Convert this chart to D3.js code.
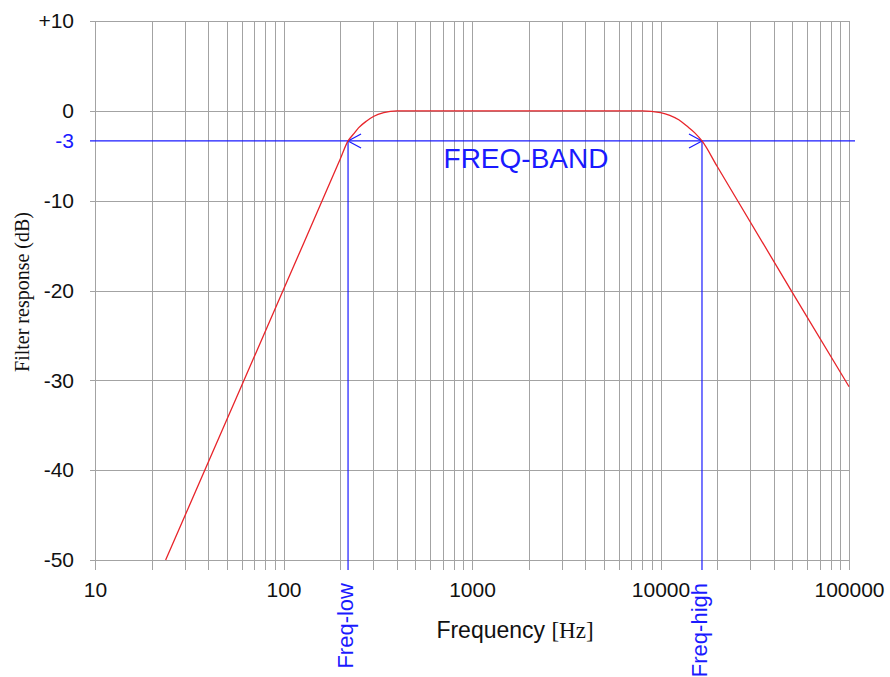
<!DOCTYPE html>
<html><head><meta charset="utf-8">
<script src="https://cdn.jsdelivr.net/npm/d3@7"></script>
<style>body{margin:0;background:#fff}svg{display:block}</style>
</head><body><svg id="c" width="890" height="677"></svg>
<script>
// Data
const freqs = [23.7, 50, 100, 150, 200, 220, 235, 250, 275, 300, 340, 400, 1000, 5000, 8000, 10000, 11200, 12500, 13800, 15200, 16600, 20000, 50000, 100000];
const response = [-50, -34.4, -19.9, -11.4, -5.37, -3.35, -2.6, -1.9, -1.15, -0.63, -0.2, 0, 0, 0, 0, -0.2, -0.5, -1.0, -1.7, -2.45, -3.35, -6.2, -20.2, -30.7];
const xTickLabels = [10, 100, 1000, 10000, 100000];
const yGrid = [10, 0, -10, -20, -30, -40, -50];
const cutoffLevel = -3.35;   // where the picture draws its "-3" line
const cutoffLabel = "-3";
const freqLow = 220;
const freqHigh = 16600;
const bandLabel = "FREQ-BAND";

const svg = d3.select("#c");
const x = d3.scaleLog().domain([10, 100000]).range([95, 849]);
const y = d3.scaleLinear().domain([-50, 10]).range([560, 21]);
const gridColor = "#a3a3a3", blue = "#1a1aff", red = "#e8242a";

// vertical grid values
const xGrid = [];
for (let d = 10; d < 100000; d *= 10) for (let m = 1; m <= 9; m++) xGrid.push(d * m);
xGrid.push(100000);

const g = svg.append("g");
g.selectAll("line.vg").data(xGrid).join("line")
  .attr("x1", d => Math.round(x(d)) + 0.5).attr("x2", d => Math.round(x(d)) + 0.5)
  .attr("y1", y(10)).attr("y2", y(-50) + 10)
  .attr("stroke", gridColor).attr("stroke-width", 1);
g.selectAll("line.hg").data(yGrid).join("line")
  .attr("x1", x(10) - 5).attr("x2", x(100000))
  .attr("y1", d => Math.round(y(d)) + 0.5).attr("y2", d => Math.round(y(d)) + 0.5)
  .attr("stroke", gridColor).attr("stroke-width", 1);

// axes (labels only)
const font = "'Liberation Sans', Arial, sans-serif";
const serif = "'Liberation Serif', 'Times New Roman', serif";
const xAxis = svg.append("g").attr("transform", `translate(0,${y(-50)})`)
  .call(d3.axisBottom(x).tickValues(xTickLabels).tickFormat(d3.format("d")).tickSize(0).tickPadding(22));
xAxis.select(".domain").remove();
xAxis.selectAll("text").attr("font-family", font).attr("font-size", 21).attr("fill", "#111");

const yAxis = svg.append("g").attr("transform", `translate(${x(10)},0)`)
  .call(d3.axisLeft(y).tickValues(yGrid.concat([cutoffLevel]))
    .tickFormat(d => d === cutoffLevel ? cutoffLabel : (d > 0 ? "+" + d : String(d)))
    .tickSize(0).tickPadding(21));
yAxis.select(".domain").remove();
yAxis.selectAll("text").attr("font-family", font).attr("font-size", 21)
  .attr("fill", d => d === cutoffLevel ? blue : "#111");

// blue cutoff lines
const ay = y(cutoffLevel);
svg.append("line").attr("x1", x(10) - 5).attr("x2", 855)
  .attr("y1", ay).attr("y2", ay).attr("stroke", blue).attr("stroke-width", 1.2);
[freqLow, freqHigh].forEach(f => {
  svg.append("line").attr("x1", x(f)).attr("x2", x(f))
    .attr("y1", ay).attr("y2", y(-50) + 10).attr("stroke", blue).attr("stroke-width", 1.2);
});
// arrowheads
const xl = x(freqLow), xh = x(freqHigh);
svg.append("path").attr("d", `M${xl + 13},${ay - 7}L${xl},${ay}L${xl + 13},${ay + 7}`)
  .attr("fill", "none").attr("stroke", blue).attr("stroke-width", 1.2);
svg.append("path").attr("d", `M${xh - 13},${ay - 7}L${xh},${ay}L${xh - 13},${ay + 7}`)
  .attr("fill", "none").attr("stroke", blue).attr("stroke-width", 1.2);

svg.append("text").attr("x", 526).attr("y", ay + 27).attr("text-anchor", "middle")
  .attr("font-family", font).attr("font-size", 28).attr("fill", blue).text(bandLabel);

// red response curve
const pts = freqs.map((f, i) => [x(f), y(response[i])]);
svg.append("path").attr("d", d3.line().curve(d3.curveMonotoneX)(pts))
  .attr("fill", "none").attr("stroke", red).attr("stroke-width", 1.3);

// rotated labels under cutoff lines
[["Freq-low", freqLow], ["Freq-high", freqHigh]].forEach(([t, f]) => {
  svg.append("text").attr("transform", `translate(${x(f) + 5},583) rotate(-90)`)
    .attr("text-anchor", "end").attr("font-family", font).attr("font-size", 22)
    .attr("fill", blue).text(t);
});

// axis titles
const xt = svg.append("text").attr("x", 515).attr("y", 638).attr("text-anchor", "middle")
  .attr("font-size", 23).attr("fill", "#111");
xt.append("tspan").attr("font-family", font).text("Frequency ");
xt.append("tspan").attr("font-family", serif).text("[Hz]");

svg.append("text").attr("transform", "translate(29,292) rotate(-90)").attr("text-anchor", "middle")
  .attr("font-family", serif).attr("font-size", 20)
  .attr("fill", "#111").text("Filter response (dB)");
</script></body></html>
